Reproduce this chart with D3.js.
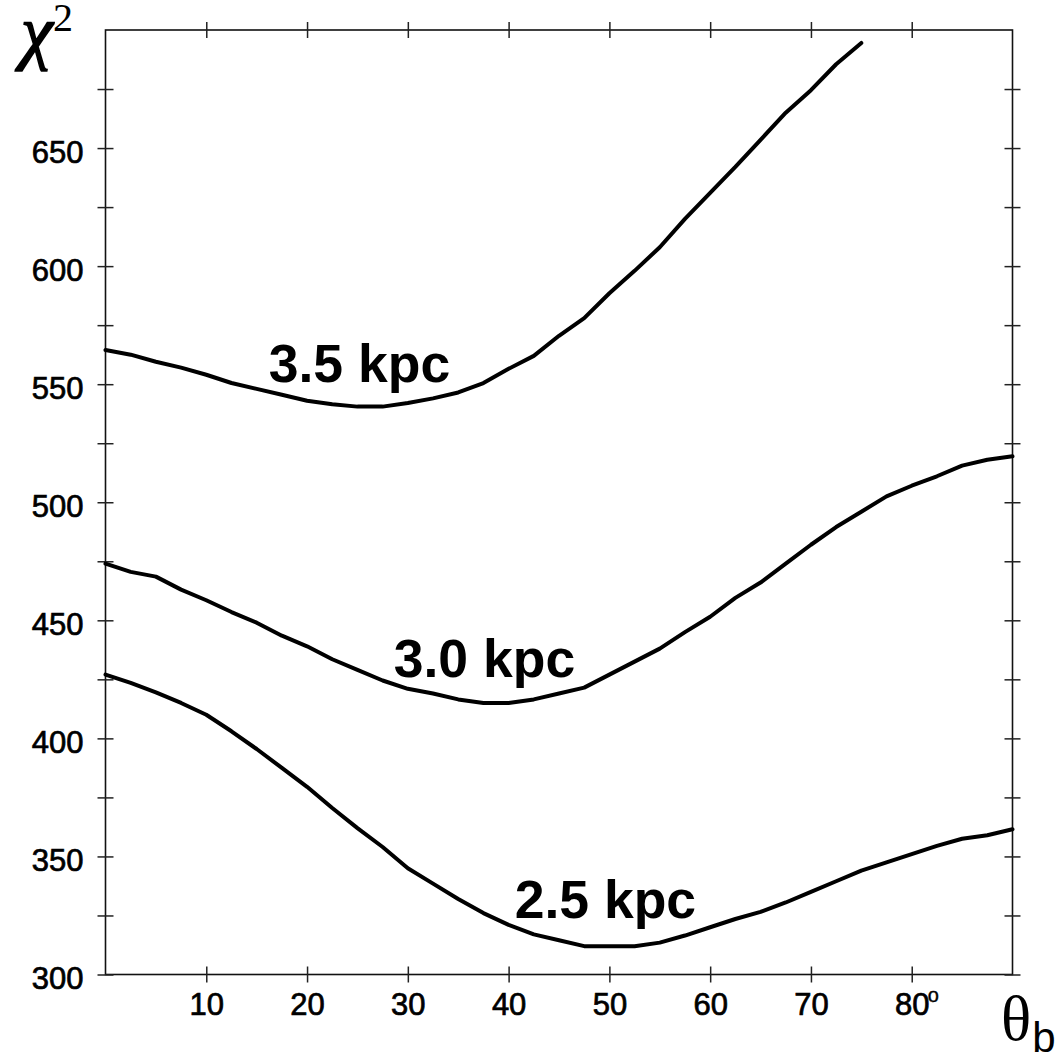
<!DOCTYPE html>
<html>
<head>
<meta charset="utf-8">
<script src="https://cdn.jsdelivr.net/npm/d3@7"></script>
<style>
  html, body { margin: 0; padding: 0; background: #fff; }
  svg { display: block; }
</style>
</head>
<body>
<div id="chart"></div>
<script>
// ---- Data ----
const theta = d3.range(0, 90.01, 2.5);          // θb in degrees, 2.5° steps
const chi2_35 = [564.5, 562.5, 559.5, 557, 554, 550.5, 548, 545.5, 543, 541.5,
                 540.5, 540.5, 542, 544, 546.5, 550.5, 556.5, 562, 570.5, 578,
                 588.5, 598, 608, 620, 631, 642, 653.5, 665, 674.5, 685.5, 694.5];
const chi2_30 = [474, 470.5, 468.5, 463, 458.5, 453.5, 449, 443.5, 439, 433.5,
                 429, 424.5, 421, 419, 416.5, 415, 415, 416.5, 419, 421.5,
                 427, 432.5, 438, 445, 451.5, 459.5, 466, 474, 482, 489.5,
                 496, 502.5, 507, 511, 515.5, 518, 519.5];
const chi2_25 = [427, 423.5, 419.5, 415, 410, 403, 395.5, 387.5, 379.5, 370.5,
                 362, 354, 345, 338.5, 332, 326, 321, 317, 314.5, 312,
                 312, 312, 313.5, 316.5, 320, 323.5, 326.5, 330.5, 335, 339.5,
                 344, 347.5, 351, 354.5, 357.5, 359, 361.5];
const seriesNames = ["3.5 kpc", "3.0 kpc", "2.5 kpc"];
const labelTheta = [16.2, 28.6, 40.6];          // label anchor (θ) for each curve
const labelChi = [550.9, 426, 324];             // label baseline (χ²) for each curve
const xTicks = [10, 20, 30, 40, 50, 60, 70, 80];
const xTickLabels = ["10", "20", "30", "40", "50", "60", "70", "80"];
const yTicksMajor = [300, 350, 400, 450, 500, 550, 600, 650];
const yTicksAll = d3.range(300, 700, 25);

// ---- Layout ----
const W = 1057, H = 1055;
const mLeft = 105.5, mRight = 1012.5, mTop = 30, mBottom = 974.5;

const svg = d3.select("#chart").append("svg")
  .attr("width", W).attr("height", H);

const x = d3.scaleLinear().domain([0, 90]).range([mLeft, mRight]);
const y = d3.scaleLinear().domain([300, 700]).range([mBottom, mTop]);

const sans = "'Liberation Sans', Arial, Helvetica, sans-serif";
const serif = "'Liberation Serif', 'Times New Roman', Times, serif";
const tickColor = "#222";

// Frame
svg.append("rect")
  .attr("x", mLeft).attr("y", mTop)
  .attr("width", mRight - mLeft).attr("height", mBottom - mTop)
  .attr("fill", "none").attr("stroke", "#111").attr("stroke-width", 1.6);

function styleAxis(g) {
  g.select(".domain").remove();
  g.selectAll(".tick line").attr("stroke", tickColor).attr("stroke-width", 1.5);
}
function styleTickText(sel) {
  sel.attr("font-family", sans).attr("font-size", 31).attr("fill", "#000")
     .attr("stroke", "#000").attr("stroke-width", 0.7);
}

// Bottom axis
const gx = svg.append("g")
  .attr("transform", `translate(0,${mBottom})`)
  .call(d3.axisBottom(x).tickValues(xTicks)
        .tickFormat((d, i) => xTickLabels[i]).tickSize(8));
styleAxis(gx);
gx.selectAll(".tick line").attr("y1", -8).attr("y2", 8);
gx.selectAll(".tick text").attr("y", 40).attr("dy", 0).call(styleTickText);

// degree sign after 80
svg.append("text")
  .attr("x", x(80) + 16).attr("y", mBottom + 27.5)
  .attr("font-family", sans).attr("font-size", 20).attr("fill", "#000")
  .attr("stroke", "#000").attr("stroke-width", 0.4)
  .text("o");

// Top axis (ticks only)
const gt = svg.append("g")
  .attr("transform", `translate(0,${mTop})`)
  .call(d3.axisTop(x).tickValues(xTicks).tickFormat("").tickSize(8));
styleAxis(gt);
gt.selectAll(".tick line").attr("y1", -8).attr("y2", 8);

// Left axis
const gy = svg.append("g")
  .attr("transform", `translate(${mLeft},0)`)
  .call(d3.axisLeft(y).tickValues(yTicksAll)
        .tickFormat(d => yTicksMajor.includes(d) ? String(d) : "").tickSize(8));
styleAxis(gy);
gy.selectAll(".tick line").attr("x1", 8).attr("x2", -8);
gy.selectAll(".tick text").attr("x", -22).attr("dy", "0.45em").call(styleTickText);

// Right axis (ticks only)
const gr = svg.append("g")
  .attr("transform", `translate(${mRight},0)`)
  .call(d3.axisRight(y).tickValues(yTicksAll).tickFormat("").tickSize(8));
styleAxis(gr);
gr.selectAll(".tick line").attr("x1", -8).attr("x2", 8);

// Curves
const line = d3.line()
  .x((d, i) => x(theta[i]))
  .y(d => y(d))
  .curve(d3.curveLinear);

[chi2_35, chi2_30, chi2_25].forEach(s => {
  svg.append("path")
    .datum(s)
    .attr("d", line)
    .attr("fill", "none")
    .attr("stroke", "#000")
    .attr("stroke-width", 4)
    .attr("stroke-linejoin", "round")
    .attr("stroke-linecap", "round");
});

// Curve labels
seriesNames.forEach((name, i) => {
  svg.append("text")
    .attr("x", x(labelTheta[i])).attr("y", y(labelChi[i]))
    .attr("font-family", sans).attr("font-weight", "bold")
    .attr("font-size", 53.5).attr("fill", "#000")
    .text(name);
});

// Axis titles
svg.append("text")
  .attr("x", 21).attr("y", 56)
  .attr("font-family", serif).attr("font-style", "italic")
  .attr("font-size", 72).attr("fill", "#000")
  .attr("stroke", "#000").attr("stroke-width", 1.6)
  .text("χ");
svg.append("text")
  .attr("x", 53).attr("y", 31)
  .attr("font-family", serif).attr("font-size", 40).attr("fill", "#000")
  .text("2");

const xt = svg.append("text")
  .attr("x", 1001).attr("y", 1040)
  .attr("fill", "#000");
xt.append("tspan").attr("font-family", serif).attr("font-size", 63).text("θ");
xt.append("tspan").attr("font-family", sans).attr("font-size", 42).attr("dy", 12).attr("dx", 1).text("b");
</script>
</body>
</html>
